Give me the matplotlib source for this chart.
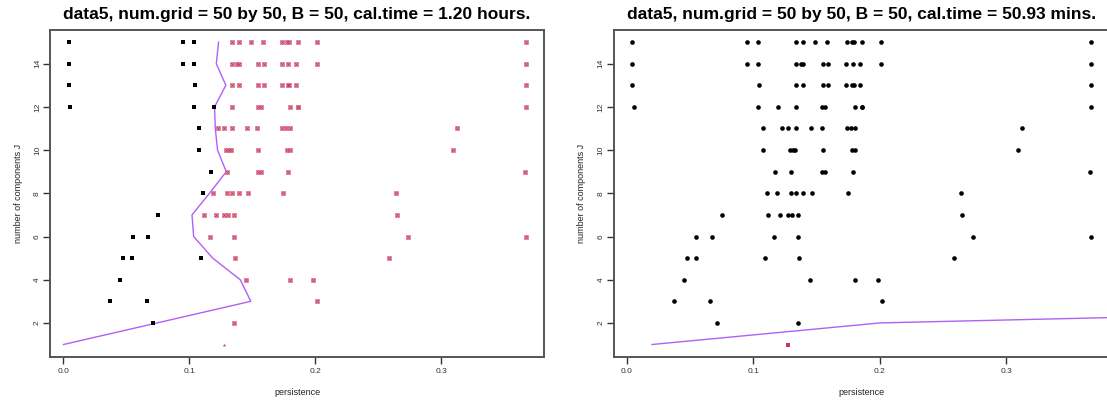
import matplotlib
matplotlib.use("Agg")
import matplotlib.pyplot as plt
import numpy as np

plt.rcParams['font.family'] = ['Liberation Sans', 'DejaVu Sans']

# ---- data (persistence of candidate components per J) ----
J_black = [15, 15, 15, 14, 14, 14, 13, 13, 12, 12, 12, 11, 10, 9, 8, 7, 6, 6, 5, 5, 5, 4, 3, 3, 2]
x_black = [0.0042, 0.0947, 0.1040, 0.0042, 0.0947, 0.1034, 0.0042, 0.1045,
           0.0053, 0.1040, 0.1198, 0.1074, 0.1079, 0.1174, 0.1111, 0.0752,
           0.0549, 0.0675, 0.0472, 0.0543, 0.1095, 0.0448, 0.0372, 0.0660, 0.0710]

J_red = ([15] * 10 + [14] * 10 + [13] * 9 + [12] * 7 + [11] * 9 + [10] * 7 +
         [9] * 5 + [8] * 7 + [7] * 6 + [6] * 4 + [5] * 2 + [4] * 3 + [3] + [2])
x_red = [0.1338, 0.1396, 0.1486, 0.1586, 0.1739, 0.1776, 0.1794, 0.1861, 0.2011, 0.3671,
         0.1338, 0.1376, 0.1396, 0.1549, 0.1591, 0.1734, 0.1786, 0.1845, 0.2011, 0.3671,
         0.1338, 0.1391, 0.1549, 0.1589, 0.1734, 0.1781, 0.1794, 0.1845, 0.3671,
         0.1338, 0.1546, 0.1567, 0.1800, 0.1861, 0.1861, 0.3671,
         0.1224, 0.1277, 0.1338, 0.1454, 0.1541, 0.1739, 0.1770, 0.1800, 0.3124,
         0.1290, 0.1311, 0.1327, 0.1549, 0.1778, 0.1802, 0.3096,
         0.1296, 0.1546, 0.1570, 0.1784, 0.3663,
         0.1185, 0.1301, 0.1338, 0.1394, 0.1465, 0.1747, 0.2645,
         0.1113, 0.1211, 0.1272, 0.1303, 0.1354, 0.2649,
         0.1161, 0.1354, 0.2736, 0.3671,
         0.1359, 0.2589,
         0.1449, 0.1802, 0.1984,
         0.2016,
         0.1354]

J_star = [1]
x_star = [0.1272]

J_line = list(range(1, 16))
x_line_left = [0.0, 0.0745, 0.1488, 0.1404, 0.1185, 0.1034, 0.1021, 0.1160,
               0.1293, 0.1224, 0.1206, 0.1200, 0.1290, 0.1214, 0.1232]

J_line_right = [1, 2, 3]
x_line_right = [0.0198, 0.2003, 0.94]

titles = ["data5, num.grid = 50 by 50, B = 50, cal.time = 1.20 hours.",
          "data5, num.grid = 50 by 50, B = 50, cal.time = 50.93 mins."]
xticks = [0.0, 0.1, 0.2, 0.3]
xtick_labels = ["0.0", "0.1", "0.2", "0.3"]
yticks = [2, 4, 6, 8, 10, 12, 14]

# ---- figure ----
W, H = 1107, 403
fig = plt.figure(figsize=(W / 100, H / 100), dpi=100)

def px_axes(x0, x1, y0, y1):
    return fig.add_axes([x0 / W, 1 - y1 / H, (x1 - x0) / W, (y1 - y0) / H])

ax1 = px_axes(50, 544, 30, 356.6)
ax2 = px_axes(613.5, 1109.5, 30, 356.6)

LINE_C = '#b060f8'
RED = '#c8385a'

def style(ax, title):
    ax.set_xlim(-0.0107, 0.3817)
    ax.set_ylim(0.44, 15.56)
    ax.set_xticks(xticks)
    ax.set_xticklabels(xtick_labels)
    ax.set_yticks(yticks)
    ax.set_yticklabels([str(v) for v in yticks], rotation=90, va='center')
    ax.tick_params(axis='both', labelsize=6, colors='#333333', length=5, width=1,
                   direction='out')
    ax.tick_params(axis='x', pad=3.5)
    ax.tick_params(axis='y', pad=1.5)
    for s in ax.spines.values():
        s.set_color('#555555')
        s.set_linewidth(1.4)
    ax.set_xlabel('persistence', fontsize=6.5, labelpad=9, color='#222222')
    ax.set_ylabel('number of components J', fontsize=6.5, labelpad=8, color='#222222')
    ax.set_title(title, fontsize=12.5, fontweight='bold', pad=8)

# left panel
ax1.plot(x_line_left, J_line, color=LINE_C, lw=1.0, zorder=2)
ax1.scatter(x_black, J_black, marker='s', s=5, color='black', linewidths=0, zorder=3)
ax1.scatter(x_red, J_red, marker='s', s=6, facecolor='#e8a0b4', edgecolor='#d86a88',
            linewidths=0.5, zorder=3)
ax1.scatter(x_red, J_red, marker='x', s=3.5, color=RED, linewidths=0.6, zorder=4)
ax1.scatter(x_star, J_star, marker='*', s=7, color=RED, linewidths=0, zorder=4)
style(ax1, titles[0])

# right panel
ax2.plot(x_line_right, J_line_right, color=LINE_C, lw=1.0, zorder=2)
ax2.scatter(x_black + x_red, J_black + J_red, marker='o', s=11, color='black',
            linewidths=0, zorder=3)
ax2.scatter(x_star, J_star, marker='s', s=6, color=RED, linewidths=0, zorder=4)
style(ax2, titles[1])

fig.savefig('out.png', dpi=100)
